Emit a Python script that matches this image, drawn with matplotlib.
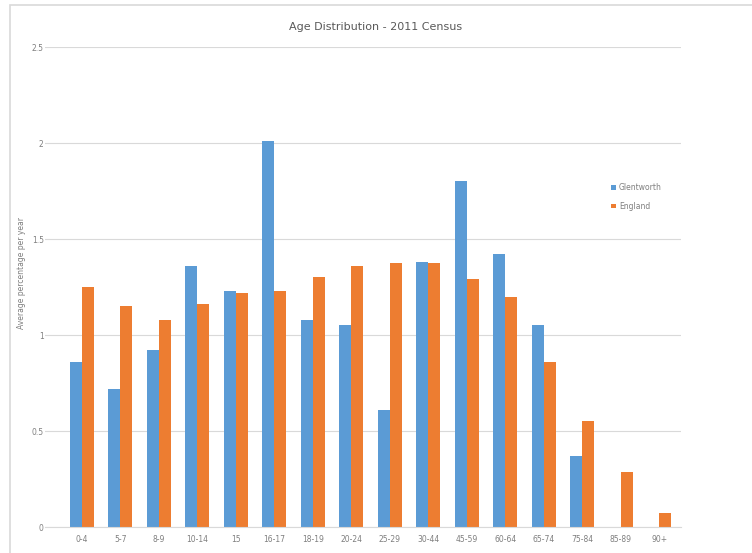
import numpy as np
import matplotlib.pyplot as plt
from matplotlib.patches import Rectangle

# Age bands and average percentage per year
ages = ['0-4', '5-7', '8-9', '10-14', '15', '16-17', '18-19', '20-24',
        '25-29', '30-44', '45-59', '60-64', '65-74', '75-84', '85-89', '90+']
glentworth = [0.86, 0.72, 0.92, 1.36, 1.23, 2.01, 1.08, 1.05,
              0.61, 1.38, 1.80, 1.42, 1.05, 0.37, 0.0, 0.0]
england = [1.25, 1.15, 1.08, 1.16, 1.22, 1.23, 1.30, 1.36,
           1.375, 1.375, 1.29, 1.20, 0.86, 0.55, 0.285, 0.073]

blue = '#5B9BD5'
orange = '#ED7D31'
txt = '#7f7f7f'

fig = plt.figure(figsize=(7.52, 5.53), dpi=100)
fig.patches.append(Rectangle((10 / 752, -0.01), 1.2, 1 - 5 / 553 + 0.01,
                             transform=fig.transFigure, fill=False,
                             edgecolor='#d9d9d9', linewidth=1.2))

ax = fig.add_axes([0.06, 0.047, 0.845, 0.868])
x = np.arange(len(ages))
w = 0.31
ax.bar(x - w / 2, glentworth, w, color=blue, label='Glentworth')
ax.bar(x + w / 2, england, w, color=orange, label='England')

ax.set_xlim(-0.95, len(ages) - 0.45)
ax.set_ylim(0, 2.5)
ax.set_yticks([0, 0.5, 1, 1.5, 2, 2.5])
ax.set_yticklabels(['0', '0.5', '1', '1.5', '2', '2.5'])
ax.set_xticks(x)
ax.set_xticklabels(ages)
ax.tick_params(axis='x', length=0, labelsize=5.5, labelcolor=txt, pad=6)
ax.tick_params(axis='y', length=0, labelsize=5.5, labelcolor=txt, pad=1)
ax.yaxis.grid(True, color='#d9d9d9', linewidth=0.8)
ax.set_axisbelow(True)
for s in ['top', 'right', 'left']:
    ax.spines[s].set_visible(False)
ax.spines['bottom'].set_color('#d9d9d9')

ax.set_ylabel('Average percentage per year', fontsize=5.5, color=txt)
ax.yaxis.set_label_coords(-0.03, 0.53)
fig.text(0.5, 0.951, 'Age Distribution - 2011 Census', ha='center', va='center',
         fontsize=8, color='#595959')

ax.legend(loc='upper left', bbox_to_anchor=(0.88, 0.73), frameon=False,
          fontsize=5.5, labelcolor=txt, handlelength=0.6, handleheight=0.6,
          handletextpad=0.4, labelspacing=1.2)

fig.savefig('out.png', dpi=100)
